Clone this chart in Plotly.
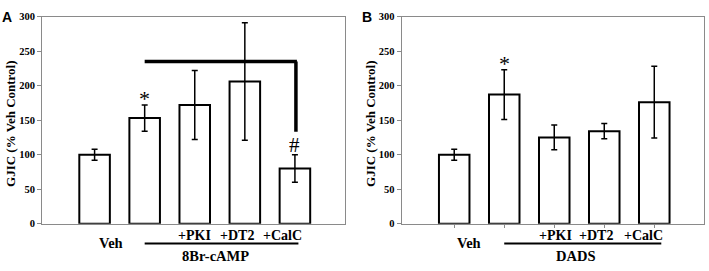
import plotly.graph_objects as go

# ---- data ----
positions = [1, 2, 3, 4, 5]
a_values = [100, 153, 172, 206, 80]
a_errors = [8, 19, 50, 85, 20]
b_values = [100, 187, 125, 134, 176]
b_errors = [8, 36, 18, 11, 52]
y_ticks = [0, 50, 100, 150, 200, 250, 300]
a_treatment = "8Br-cAMP"
b_treatment = "DADS"
sub_labels = ["+PKI", "+DT2", "+CalC"]
y_title = "GJIC (% Veh Control)"

SERIF = "Liberation Serif"
GRAY = "#8a8a8a"

fig = go.Figure()
for vals, errs, xa, ya in [(a_values, a_errors, "x", "y"), (b_values, b_errors, "x2", "y2")]:
    fig.add_trace(go.Bar(
        x=positions, y=vals, width=0.61, xaxis=xa, yaxis=ya,
        marker=dict(color="white", line=dict(color="black", width=2)),
        error_y=dict(type="data", array=errs, visible=True, color="black",
                     thickness=1.5, width=3),
        showlegend=False, hoverinfo="skip"))

ydom = [1 - 228 / 271, 1 - 12 / 271]
axis_common = dict(range=[-0.05, 6.0], showline=True, linecolor=GRAY, linewidth=1,
                   mirror=True, showgrid=False, zeroline=False, showticklabels=False,
                   fixedrange=True)
yaxis_common = dict(range=[0, 300], tickvals=y_ticks, showline=True, linecolor=GRAY,
                    linewidth=1, mirror=True, showgrid=False, zeroline=False,
                    ticks="outside", ticklen=4, tickcolor=GRAY, fixedrange=True,
                    tickfont=dict(family=SERIF, size=10.5, color="black", weight="bold"),
                    domain=ydom)

fig.update_layout(
    width=709, height=271, margin=dict(l=0, r=0, t=0, b=0),
    plot_bgcolor="white", paper_bgcolor="white", bargap=0,
    xaxis=dict(domain=[42 / 709, 345 / 709], anchor="y", ticks="", **axis_common),
    xaxis2=dict(domain=[401.7 / 709, 704.3 / 709], anchor="y2", ticks="outside",
                ticklen=3, tickcolor=GRAY, tickvals=positions, **axis_common),
    yaxis=dict(anchor="x", **yaxis_common),
    yaxis2=dict(anchor="x2", **yaxis_common),
)

ann = []
shapes = []
lab_font = dict(family=SERIF, size=14.5, color="black", weight="bold")
sub_font = dict(family=SERIF, size=14, color="black", weight="bold")
for xa, title_x, letter, letter_x, treat, veh_x, sub_xs, ul_end in [
        ("x", 11, "A", 0, a_treatment, 1.33, [3.0, 3.84, 4.76], 5.07),
        ("x2", 371, "B", 360, b_treatment, 1.30, [3.03, 3.83, 4.79], 5.14)]:
    ann.append(dict(x=title_x / 709, y=1 - 124 / 271, xref="paper", yref="paper", text=y_title,
                    textangle=-90, showarrow=False, xanchor="center", yanchor="middle",
                    font=dict(family=SERIF, size=13, color="black", weight="bold")))
    ann.append(dict(x=letter_x / 709, y=1 - 13 / 271, xref="paper", yref="paper",
                    text=letter, showarrow=False, xanchor="left", yanchor="middle",
                    font=dict(family="Liberation Sans", size=14, color="black", weight="bold")))
    ann.append(dict(x=veh_x, y=1 - 248 / 271, xref=xa, yref="paper", text="Veh",
                    showarrow=False, yanchor="middle", font=lab_font))
    for sx, s in zip(sub_xs, sub_labels):
        ann.append(dict(x=sx, y=1 - 240 / 271, xref=xa, yref="paper", text=s,
                        showarrow=False, yanchor="middle", font=sub_font))
    ann.append(dict(x=3.42, y=1 - 261.7 / 271, xref=xa, yref="paper", text=treat,
                    showarrow=False, yanchor="middle", font=lab_font))
    shapes.append(dict(type="line", xref=xa, yref="paper", x0=2.0, x1=ul_end,
                       y0=1 - 248.5 / 271, y1=1 - 248.5 / 271,
                       line=dict(color="black", width=2)))

# significance marks
ann.append(dict(x=2, y=a_values[1] + a_errors[1], xref="x", yref="y", text="*",
                showarrow=False, yanchor="bottom", yshift=-8,
                font=dict(family=SERIF, size=22, color="black")))
ann.append(dict(x=2, y=b_values[1] + b_errors[1], xref="x2", yref="y2", text="*",
                showarrow=False, yanchor="bottom", yshift=-8,
                font=dict(family=SERIF, size=22, color="black")))
ann.append(dict(x=5, y=a_values[4] + a_errors[4], xref="x", yref="y", text="#",
                showarrow=False, yanchor="bottom", yshift=-4,
                font=dict(family=SERIF, size=21, color="black")))

bracket_y = 235
bracket_bottom = 133
shapes.append(dict(type="line", xref="x", yref="y", x0=2.0, x1=5.04, y0=bracket_y, y1=bracket_y,
                   line=dict(color="black", width=3.5)))
shapes.append(dict(type="line", xref="x", yref="y", x0=5.02, x1=5.02, y0=bracket_y,
                   y1=bracket_bottom, line=dict(color="black", width=3.5)))

fig.update_layout(annotations=ann, shapes=shapes)
fig.write_html(
    "out.html", config={"displayModeBar": False, "staticPlot": True},
    post_script=("document.documentElement.style.margin='0';"
                 "document.documentElement.style.overflow='hidden';"
                 "document.body.style.margin='0';"
                 "document.body.style.overflow='hidden';"
                 "document.body.style.height='271px';"))
